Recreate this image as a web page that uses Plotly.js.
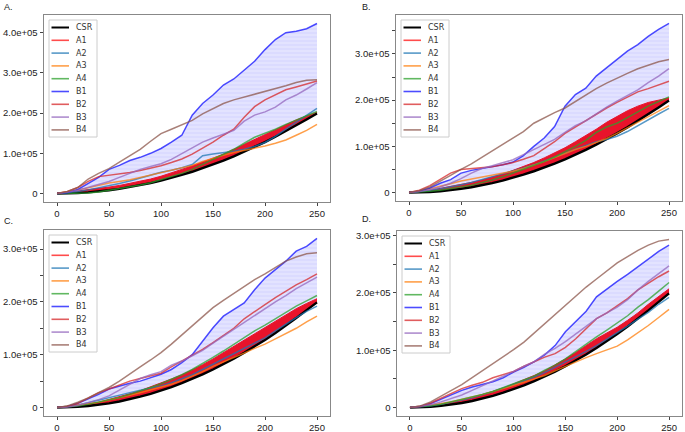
<!DOCTYPE html>
<html>
<head>
<meta charset="utf-8">
<script src="https://cdn.plot.ly/plotly-3.0.1.min.js"></script>
<style>
  body { margin: 0; background: #fff; }
  #chart { width: 685px; height: 432px; }
</style>
</head>
<body>
<div id="chart"></div>
<script>
// x positions (iterations) shared by every panel
const steps = [0,10,20,30,40,50,60,70,80,90,100,110,120,130,140,150,160,170,180,190,200,210,220,230,240,250];
const seriesNames = ['CSR','A1','A2','A3','A4','B1','B2','B3','B4'];
const xTickVals = [0,50,100,150,200,250];

// values below are in units of 1e5
const csr = [0,0.003,0.013,0.029,0.051,0.08,0.115,0.157,0.205,0.259,0.32,0.387,0.461,0.541,0.627,0.72,0.819,0.925,1.037,1.155,1.28,1.411,1.549,1.693,1.843,1.99];

// panel A
const pA_A1 = [0,0.03,0.06,0.09,0.12,0.16,0.2,0.25,0.3,0.36,0.43,0.51,0.6,0.69,0.78,0.88,0.98,1.1,1.24,1.36,1.48,1.6,1.72,1.83,1.93,2.02];
const pA_A2 = [0,0.02,0.05,0.09,0.14,0.19,0.25,0.31,0.38,0.45,0.53,0.58,0.64,0.72,0.94,0.98,1.01,1.05,1.1,1.17,1.27,1.42,1.6,1.78,1.96,2.12];
const pA_A3 = [0,0.04,0.09,0.14,0.2,0.26,0.3,0.34,0.4,0.46,0.52,0.58,0.64,0.7,0.8,0.88,0.95,1.02,1.07,1.12,1.18,1.25,1.33,1.45,1.57,1.72];
const pA_A4 = [0,0,0,0.01,0.04,0.08,0.12,0.16,0.21,0.27,0.35,0.42,0.5,0.6,0.72,0.85,0.98,1.1,1.25,1.4,1.5,1.6,1.72,1.83,1.94,2.04];
const pA_B1 = [0,0.02,0.1,0.25,0.4,0.6,0.7,0.82,0.9,1.0,1.12,1.28,1.45,1.95,2.24,2.45,2.7,2.85,3.08,3.29,3.58,3.83,4.0,4.04,4.1,4.23];
const pA_B2 = [0,0.05,0.15,0.3,0.42,0.45,0.48,0.52,0.57,0.63,0.69,0.77,0.86,0.98,1.12,1.28,1.45,1.6,1.9,2.16,2.33,2.45,2.58,2.65,2.72,2.8];
const pA_B3 = [0,0.03,0.08,0.15,0.22,0.3,0.4,0.5,0.6,0.67,0.74,0.85,1.0,1.15,1.28,1.38,1.48,1.57,1.8,1.95,2.03,2.15,2.33,2.45,2.6,2.76];
const pA_B4 = [0,0.05,0.15,0.36,0.5,0.62,0.78,0.95,1.1,1.3,1.49,1.6,1.7,1.82,1.98,2.12,2.24,2.33,2.4,2.47,2.54,2.6,2.68,2.76,2.82,2.83];

// panel B
const pB_A1 = [0,0.02,0.05,0.09,0.13,0.17,0.22,0.27,0.33,0.4,0.48,0.56,0.65,0.75,0.86,0.97,1.1,1.23,1.37,1.52,1.65,1.77,1.87,1.95,2.0,2.05];
const pB_A2 = [0,0.02,0.05,0.08,0.12,0.17,0.22,0.28,0.34,0.4,0.46,0.53,0.6,0.68,0.76,0.85,0.94,1.02,1.1,1.15,1.22,1.32,1.45,1.58,1.7,1.82];
const pB_A3 = [0,0.03,0.08,0.13,0.19,0.25,0.29,0.33,0.37,0.41,0.46,0.52,0.59,0.67,0.76,0.85,0.93,1.0,1.08,1.17,1.28,1.4,1.52,1.63,1.75,1.88];
const pB_A4 = [0,0.01,0.03,0.05,0.08,0.12,0.16,0.21,0.27,0.34,0.42,0.5,0.58,0.67,0.77,0.88,1.0,1.13,1.3,1.42,1.5,1.62,1.75,1.87,1.97,2.07];
const pB_B1 = [0,0.03,0.1,0.2,0.28,0.42,0.48,0.52,0.55,0.6,0.66,0.8,1.0,1.18,1.43,1.87,2.12,2.26,2.52,2.7,2.88,3.06,3.2,3.38,3.53,3.66];
const pB_B2 = [0,0.05,0.15,0.28,0.42,0.5,0.52,0.54,0.56,0.6,0.65,0.72,0.8,0.95,1.1,1.28,1.42,1.56,1.7,1.83,1.95,2.07,2.18,2.25,2.33,2.41];
const pB_B3 = [0,0.02,0.06,0.12,0.2,0.3,0.42,0.52,0.58,0.64,0.71,0.82,0.93,1.05,1.15,1.3,1.45,1.55,1.7,1.85,1.98,2.1,2.22,2.38,2.52,2.68];
const pB_B4 = [0,0.04,0.12,0.24,0.37,0.5,0.62,0.76,0.9,1.04,1.18,1.32,1.5,1.62,1.73,1.83,1.97,2.12,2.25,2.37,2.48,2.58,2.68,2.76,2.83,2.88];

// panel C
const pC_A1 = [0,0.02,0.04,0.07,0.1,0.15,0.2,0.26,0.32,0.39,0.46,0.54,0.62,0.71,0.81,0.92,1.04,1.15,1.27,1.39,1.51,1.63,1.76,1.87,1.97,2.06];
const pC_A2 = [0,0.02,0.05,0.09,0.14,0.19,0.24,0.29,0.33,0.37,0.41,0.47,0.54,0.62,0.72,0.82,0.92,1.02,1.12,1.22,1.32,1.45,1.58,1.7,1.82,1.92];
const pC_A3 = [0,0.02,0.04,0.07,0.1,0.14,0.18,0.23,0.28,0.33,0.38,0.44,0.51,0.59,0.68,0.78,0.86,0.94,1.03,1.12,1.2,1.3,1.4,1.5,1.62,1.73];
const pC_A4 = [0,0.01,0.03,0.06,0.1,0.14,0.19,0.25,0.31,0.38,0.45,0.53,0.62,0.72,0.83,0.95,1.07,1.2,1.33,1.45,1.56,1.68,1.8,1.92,2.02,2.12];
const pC_B1 = [0,0.02,0.08,0.16,0.25,0.35,0.41,0.46,0.5,0.56,0.63,0.72,0.85,1.0,1.26,1.51,1.73,1.86,1.98,2.23,2.45,2.61,2.77,2.96,3.05,3.2];
const pC_B2 = [0,0.02,0.08,0.18,0.28,0.35,0.43,0.5,0.55,0.6,0.65,0.77,0.88,0.98,1.1,1.23,1.37,1.5,1.68,1.82,1.95,2.08,2.2,2.32,2.42,2.53];
const pC_B3 = [0,0.01,0.04,0.09,0.15,0.22,0.33,0.45,0.55,0.62,0.68,0.8,0.88,0.98,1.08,1.22,1.35,1.48,1.62,1.75,1.88,2.0,2.12,2.25,2.36,2.47];
const pC_B4 = [0,0.03,0.1,0.18,0.28,0.38,0.5,0.64,0.77,0.9,1.04,1.2,1.37,1.54,1.72,1.89,2.03,2.16,2.3,2.42,2.53,2.65,2.77,2.85,2.91,2.93];

// panel D
const pD_A1 = [0,0.01,0.03,0.06,0.09,0.13,0.17,0.22,0.28,0.34,0.41,0.48,0.56,0.64,0.74,0.85,0.96,1.08,1.2,1.3,1.4,1.52,1.65,1.8,1.93,2.07];
const pD_A2 = [0,0.01,0.03,0.06,0.09,0.13,0.17,0.22,0.28,0.34,0.4,0.46,0.53,0.61,0.7,0.79,0.88,0.98,1.08,1.19,1.3,1.42,1.54,1.66,1.8,1.92];
const pD_A3 = [0,0.02,0.04,0.07,0.1,0.14,0.18,0.23,0.28,0.33,0.38,0.44,0.5,0.56,0.64,0.72,0.8,0.87,0.94,1.0,1.07,1.18,1.3,1.43,1.57,1.71];
const pD_A4 = [0,0.01,0.03,0.06,0.1,0.14,0.18,0.23,0.28,0.35,0.42,0.48,0.55,0.65,0.74,0.85,0.98,1.1,1.23,1.35,1.47,1.6,1.75,1.88,2.03,2.18];
const pD_B1 = [0,0.02,0.07,0.15,0.23,0.3,0.36,0.4,0.45,0.52,0.62,0.7,0.8,0.92,1.08,1.32,1.5,1.68,1.93,2.07,2.2,2.32,2.45,2.58,2.72,2.83];
const pD_B2 = [0,0.02,0.08,0.16,0.25,0.33,0.39,0.44,0.52,0.57,0.63,0.72,0.8,0.88,0.94,1.05,1.2,1.38,1.55,1.65,1.77,1.9,2.05,2.17,2.28,2.38];
const pD_B3 = [0,0.02,0.05,0.1,0.16,0.22,0.3,0.38,0.47,0.55,0.63,0.72,0.8,0.93,1.03,1.15,1.28,1.42,1.55,1.65,1.75,1.88,2.05,2.2,2.33,2.47];
const pD_B4 = [0,0.03,0.1,0.2,0.3,0.4,0.52,0.64,0.76,0.88,1.01,1.14,1.3,1.46,1.62,1.79,1.95,2.1,2.24,2.38,2.52,2.63,2.74,2.83,2.9,2.93];

// y tick values (1e5 units) and their labels
const yTickValsA = [0,1,2,3,4];
const yTickTextA = ['0','1.0e+05','2.0e+05','3.0e+05','4.0e+05'];
const yTickValsB = [0,0.5,1,1.5,2,2.5,3,3.5];
const yTickTextB = ['0','','1.0e+05','','2.0e+05','','3.0e+05',''];
const yTickValsCD = [0,0.5,1,1.5,2,2.5,3];
const yTickTextCD = ['0','','1.0e+05','','2.0e+05','','3.0e+05'];

const SCALE = 1e5;
const W = 685, H = 432;
const px = x => x / W;
const py = y => 1 - y / H;
const FONT = 'Liberation Sans, Arial, sans-serif';

const lineColors = {
    CSR: '#000000',
    A1: 'rgba(255,0,0,0.7)',
    A2: 'rgba(31,119,180,0.75)',
    A3: 'rgba(255,127,14,0.75)',
    A4: 'rgba(44,160,44,0.75)',
    B1: 'rgba(0,0,255,0.7)',
    B2: 'rgba(214,39,40,0.75)',
    B3: 'rgba(148,103,189,0.75)',
    B4: 'rgba(140,86,75,0.75)'
};

const panels = [
    {label: 'A.', lx: 2, ly: 7, frame: {l: 44, t: 15, r: 330, b: 202},
     s: {A1: pA_A1, A2: pA_A2, A3: pA_A3, A4: pA_A4, B1: pA_B1, B2: pA_B2, B3: pA_B3, B4: pA_B4},
     yv: yTickValsA, yt: yTickTextA},
    {label: 'B.', lx: 360, ly: 7, frame: {l: 396, t: 15, r: 682, b: 201},
     s: {A1: pB_A1, A2: pB_A2, A3: pB_A3, A4: pB_A4, B1: pB_B1, B2: pB_B2, B3: pB_B3, B4: pB_B4},
     yv: yTickValsB, yt: yTickTextB},
    {label: 'C.', lx: 2, ly: 221, frame: {l: 44, t: 230, r: 330, b: 416},
     s: {A1: pC_A1, A2: pC_A2, A3: pC_A3, A4: pC_A4, B1: pC_B1, B2: pC_B2, B3: pC_B3, B4: pC_B4},
     yv: yTickValsCD, yt: yTickTextCD},
    {label: 'D.', lx: 360, ly: 219, frame: {l: 397, t: 231, r: 682, b: 416},
     s: {A1: pD_A1, A2: pD_A2, A3: pD_A3, A4: pD_A4, B1: pD_B1, B2: pD_B2, B3: pD_B3, B4: pD_B4},
     yv: yTickValsCD, yt: yTickTextCD}
];

const scale = arr => arr.map(v => v * SCALE);
const traces = [];
const shapes = [];
const annotations = [];
const layout = {
    width: W, height: H,
    margin: {l: 0, r: 0, t: 0, b: 0},
    paper_bgcolor: '#fff', plot_bgcolor: '#fff',
    showlegend: false,
    font: {family: FONT, size: 9.5, color: '#222'}
};

panels.forEach((p, i) => {
    const suf = i === 0 ? '' : String(i + 1);
    const xa = 'x' + suf, ya = 'y' + suf;
    const base = {x: steps, xaxis: xa, yaxis: ya, mode: 'lines', hoverinfo: 'skip'};

    // shaded region between CSR and B1
    traces.push({...base, y: scale(csr), line: {width: 0, color: 'rgba(0,0,0,0)'}});
    traces.push({...base, y: scale(p.s.B1), fill: 'tonexty',
        fillcolor: 'rgba(0,0,255,0.11)',
        fillpattern: {shape: '-', bgcolor: 'rgba(0,0,255,0.11)', fgcolor: 'rgba(90,90,255,1)',
                      fgopacity: 0.12, size: 4, solidity: 0.25},
        line: {width: 0, color: 'rgba(0,0,0,0)'}});

    // band of A1 runs
    traces.push({...base, y: scale(csr), line: {width: 0, color: 'rgba(0,0,0,0)'}});
    traces.push({...base, y: scale(p.s.A1), fill: 'tonexty', fillcolor: '#e8132b',
        line: {width: 1, color: '#e8132b'}});

    // lines
    traces.push({...base, y: scale(csr), line: {width: 2.4, color: lineColors.CSR}});
    ['A2', 'A3', 'A4', 'B1', 'B2', 'B3', 'B4'].forEach(n => {
        traces.push({...base, y: scale(p.s[n]), line: {width: 1.5, color: lineColors[n]}});
    });

    const all = [].concat(csr, ...Object.values(p.s));
    const ymax = Math.max(...all);
    const f = p.frame;

    layout['xaxis' + suf] = {
        domain: [px(f.l), px(f.r)], anchor: ya,
        range: [-12.5, 262.5],
        tickmode: 'array', tickvals: xTickVals, ticktext: xTickVals.map(String),
        ticks: 'outside', ticklen: 3, tickwidth: 1, tickcolor: '#444',
        showline: true, mirror: true, linecolor: '#888', linewidth: 1,
        showgrid: false, zeroline: false,
        tickfont: {family: FONT, size: 9.5, color: '#222'}
    };
    layout['yaxis' + suf] = {
        domain: [py(f.b), py(f.t)], anchor: xa,
        range: [-0.05 * ymax * SCALE, 1.05 * ymax * SCALE],
        tickmode: 'array', tickvals: scale(p.yv), ticktext: p.yt,
        ticks: 'outside', ticklen: 3.5, tickwidth: 1, tickcolor: '#444',
        showline: true, mirror: true, linecolor: '#888', linewidth: 1,
        showgrid: false, zeroline: false,
        tickfont: {family: FONT, size: 9.5, color: '#222'}
    };

    // panel letter
    annotations.push({xref: 'paper', yref: 'paper', x: px(p.lx), y: py(p.ly),
        xanchor: 'left', yanchor: 'middle', showarrow: false, text: p.label,
        font: {family: FONT, size: 9, color: '#222'}});

    // legend box drawn by hand (plotly legend rows are too tall for this layout)
    const bx = f.l + 5, by = f.t + 5;
    shapes.push({type: 'rect', xref: 'paper', yref: 'paper', layer: 'above',
        x0: px(bx), x1: px(bx + 48), y0: py(by + 117), y1: py(by),
        line: {color: '#cccccc', width: 1}, fillcolor: 'rgba(255,255,255,0.85)'});
    seriesNames.forEach((n, k) => {
        const yy = by + 7.5 + k * 12.8;
        shapes.push({type: 'line', xref: 'paper', yref: 'paper', layer: 'above',
            x0: px(bx + 2.5), x1: px(bx + 20), y0: py(yy), y1: py(yy),
            line: {color: lineColors[n], width: n === 'CSR' ? 2 : 1.6}});
        annotations.push({xref: 'paper', yref: 'paper', x: px(bx + 25), y: py(yy),
            xanchor: 'left', yanchor: 'middle', showarrow: false, text: n,
            font: {family: 'DejaVu Sans, sans-serif', size: 8, color: '#333'}});
    });
});

layout.shapes = shapes;
layout.annotations = annotations;

Plotly.newPlot('chart', traces, layout, {staticPlot: true, displayModeBar: false})
    .catch(err => console.error('Error creating chart:', err));
</script>
</body>
</html>
